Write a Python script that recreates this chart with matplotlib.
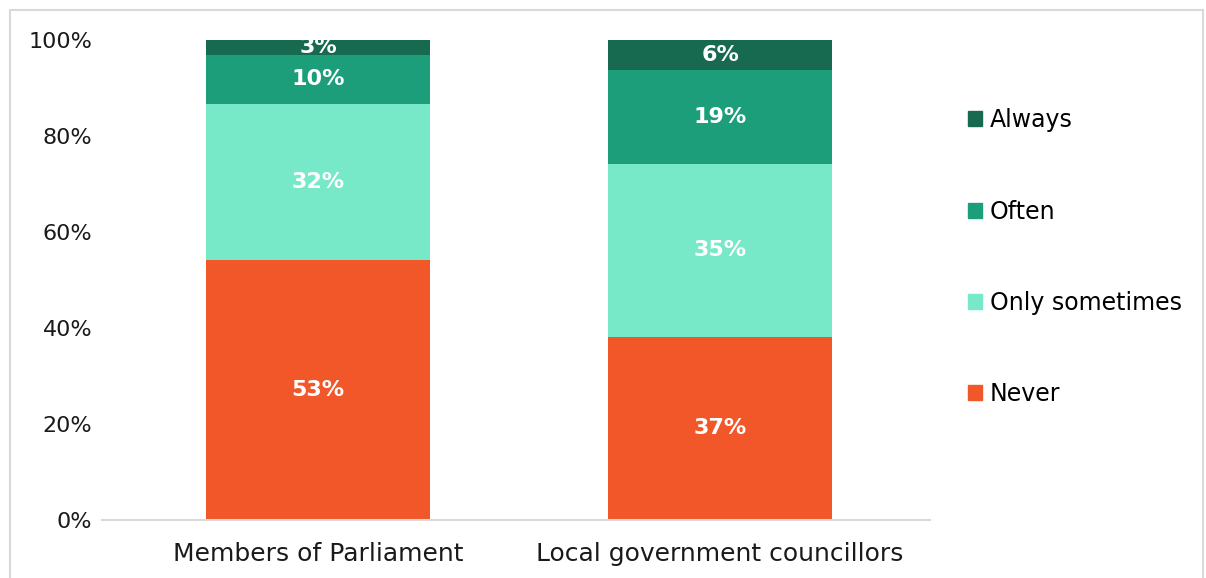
import matplotlib.pyplot as plt
from matplotlib.patches import Rectangle, Patch
import numpy as np

# datos (porcentajes mostrados)
categorias = ['Members of Parliament', 'Local government councillors']
series = ['Never', 'Only sometimes', 'Often', 'Always']
never = [53, 37]
only_sometimes = [32, 35]
often = [10, 19]
always = [3, 6]
colores = ['#F2572A', '#77E8C8', '#1C9E7A', '#17694F']

plt.rcParams['font.family'] = ['DejaVu Sans']

valores = np.array([never, only_sometimes, often, always], dtype=float)
totales = valores.sum(axis=0)
normal = valores / totales  # barra apilada al 100%

fig = plt.figure(figsize=(12.06, 5.78), dpi=100)
ax = fig.add_axes([102 / 1206, 58 / 578, 828 / 1206, 480 / 578])

x = np.arange(len(categorias))
abajo = np.zeros(len(categorias))
for i, nombre in enumerate(series):
    ax.bar(x, normal[i], 0.557, bottom=abajo, color=colores[i], label=nombre)
    for j in range(len(categorias)):
        ax.text(x[j], abajo[j] + normal[i][j] / 2, f'{int(valores[i][j])}%',
                ha='center', va='center', color='white', fontsize=16, fontweight='bold')
    abajo += normal[i]

ax.set_xlim(-0.537, 1.522)
ax.set_ylim(0, 1)
ax.set_yticks(np.arange(0, 1.01, 0.2))
ax.set_yticklabels([f'{int(round(v * 100))}%' for v in np.arange(0, 1.01, 0.2)], fontsize=16)
ax.set_xticks(x)
ax.set_xticklabels(categorias, fontsize=18)
ax.tick_params(axis='both', length=0, colors='#1a1a1a')
ax.tick_params(axis='y', pad=7)
ax.tick_params(axis='x', pad=16)
for lado in ['top', 'right', 'left']:
    ax.spines[lado].set_visible(False)
ax.spines['bottom'].set_color('#D9D9D9')
ax.spines['bottom'].set_linewidth(1.5)

# leyenda en orden inverso
manijas = [Patch(color=colores[i], label=series[i]) for i in range(3, -1, -1)]
fig.legend(handles=manijas, loc='upper left', bbox_to_anchor=(947 / 1206, 1 - 87 / 578),
           frameon=False, fontsize=17, handlelength=0.6, handleheight=0.6,
           handletextpad=0.3, labelspacing=2.85)

# borde del grafico
fig.patches.append(Rectangle((10 / 1206, -0.01), 1193 / 1206, 1 - 10 / 578 + 0.01,
                             transform=fig.transFigure, fill=False,
                             edgecolor='#D9D9D9', linewidth=1.5))

fig.savefig('out.png', dpi=100)
